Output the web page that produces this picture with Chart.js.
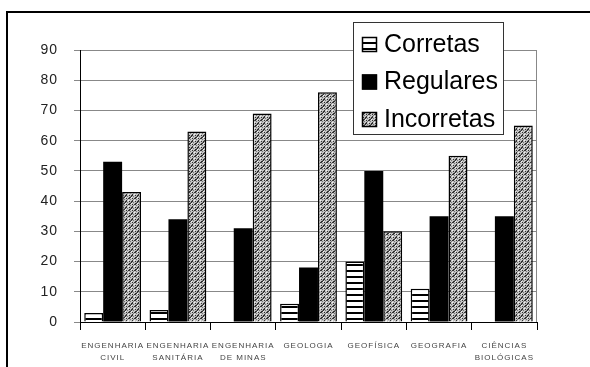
<!DOCTYPE html>
<html>
<head>
<meta charset="utf-8">
<script src="https://cdn.jsdelivr.net/npm/chart.js@4"></script>
<style>
  html, body { margin: 0; padding: 0; background: #fff; }
  canvas { display: block; }
</style>
</head>
<body>
<canvas id="chart" width="590" height="367"></canvas>
<script>
const categories = [
  ['ENGENHARIA', 'CIVIL'],
  ['ENGENHARIA', 'SANITÁRIA'],
  ['ENGENHARIA', 'DE MINAS'],
  ['GEOLOGIA'],
  ['GEOFÍSICA'],
  ['GEOGRAFIA'],
  ['CIÊNCIAS', 'BIOLÓGICAS'],
];
const corretas = [3, 4, 0, 6, 20, 11, 0];
const regulares = [53, 34, 31, 18, 50, 35, 35];
const incorretas = [43, 63, 69, 76, 30, 55, 65];
const yTicks = [0, 10, 20, 30, 40, 50, 60, 70, 80, 90];

function makePattern(draw, w, h) {
  const c = document.createElement('canvas');
  c.width = w;
  c.height = h;
  draw(c.getContext('2d'));
  return document.createElement('canvas').getContext('2d').createPattern(c, 'repeat');
}

// white with black horizontal stripes
const stripes = makePattern(ctx => {
  ctx.fillStyle = '#fff';
  ctx.fillRect(0, 0, 6, 6);
  ctx.fillStyle = '#000';
  ctx.fillRect(0, 0, 6, 2);
}, 6, 6);

// grey dotted crosshatch
const hatch = makePattern(ctx => {
  ctx.fillStyle = '#c4c4c4';
  ctx.fillRect(0, 0, 6, 6);
  ctx.fillStyle = '#333';
  ctx.fillRect(0, 0, 1, 1);
  ctx.fillRect(3, 3, 1, 1);
  ctx.fillRect(2, 0, 2, 1);
  ctx.fillRect(0, 2, 1, 2);
  ctx.fillRect(5, 3, 1, 2);
  ctx.fillRect(3, 5, 2, 1);
  ctx.fillStyle = '#777';
  ctx.fillRect(1, 1, 1, 1);
  ctx.fillRect(4, 4, 1, 1);
  ctx.fillRect(4, 1, 1, 1);
  ctx.fillRect(1, 4, 1, 1);
  ctx.fillStyle = '#f2f2f2';
  ctx.fillRect(2, 2, 1, 1);
  ctx.fillRect(5, 5, 1, 1);
}, 6, 6);

const legendItems = [
  { label: 'Corretas', fill: stripes },
  { label: 'Regulares', fill: '#000' },
  { label: 'Incorretas', fill: hatch },
];

const framePlugin = {
  id: 'frame',
  beforeDraw(chart) {
    const ctx = chart.ctx;
    ctx.save();
    ctx.strokeStyle = '#000';
    ctx.lineWidth = 2;
    ctx.beginPath();
    ctx.moveTo(590, 12);
    ctx.lineTo(7, 12);
    ctx.lineTo(7, 367);
    ctx.stroke();
    ctx.restore();
    ctx.letterSpacing = '1px';
  },
  beforeDatasetsDraw(chart) {
    chart.ctx.letterSpacing = '0px';
    const { ctx, chartArea } = chart;
    ctx.save();
    ctx.strokeStyle = '#888';
    ctx.lineWidth = 1;
    ctx.beginPath();
    ctx.moveTo(Math.round(chartArea.right) - 0.5, chartArea.top);
    ctx.lineTo(Math.round(chartArea.right) - 0.5, chartArea.bottom);
    ctx.stroke();
    ctx.restore();
  },
  afterDraw(chart) {
    const ctx = chart.ctx;
    ctx.save();
    ctx.fillStyle = '#fff';
    ctx.fillRect(353, 22, 150, 112);
    ctx.strokeStyle = '#333';
    ctx.lineWidth = 1;
    ctx.strokeRect(353.5, 22.5, 150, 112);
    ctx.font = '25px Arial, "Liberation Sans", sans-serif';
    ctx.textBaseline = 'middle';
    legendItems.forEach((item, i) => {
      const cy = 44 + i * 37.5;
      ctx.fillStyle = item.fill;
      ctx.fillRect(362, cy - 7, 15, 15);
      ctx.strokeStyle = '#000';
      ctx.lineWidth = 1.5;
      ctx.strokeRect(362.5, cy - 6.5, 14, 14);
      ctx.fillStyle = '#000';
      ctx.fillText(item.label, 384, cy + 1);
    });
    ctx.restore();
  },
};

new Chart(document.getElementById('chart'), {
  type: 'bar',
  data: {
    labels: categories,
    datasets: [
      { label: 'Corretas', data: corretas, backgroundColor: stripes, borderColor: '#000', borderWidth: 1.5 },
      { label: 'Regulares', data: regulares, backgroundColor: '#000', borderColor: '#000', borderWidth: 0 },
      { label: 'Incorretas', data: incorretas, backgroundColor: hatch, borderColor: '#000', borderWidth: 1.5 },
    ],
  },
  options: {
    responsive: false,
    animation: false,
    events: [],
    layout: { padding: { top: 50, right: 53, left: 0, bottom: 0 } },
    datasets: { bar: { categoryPercentage: 0.87, barPercentage: 1 } },
    plugins: { legend: { display: false }, tooltip: { enabled: false } },
    scales: {
      x: {
        afterFit(scale) { scale.height = 45; },
        grid: { offset: true, drawOnChartArea: false, tickLength: 8, color: '#000' },
        border: { color: '#000', width: 1 },
        ticks: {
          color: '#444',
          font: { family: 'Arial, "Liberation Sans", sans-serif', size: 8, lineHeight: 1.5 },
          padding: 10,
          maxRotation: 0,
          autoSkip: false,
        },
      },
      y: {
        min: 0,
        max: 90,
        afterFit(scale) { scale.width = 80; },
        afterBuildTicks(scale) { scale.ticks = yTicks.map(v => ({ value: v })); },
        grid: { color: '#888', tickLength: 6, lineWidth: 1 },
        border: { color: '#000', width: 1 },
        ticks: {
          color: '#222',
          font: { family: 'Arial, "Liberation Sans", sans-serif', size: 14 },
          padding: 16,
        },
      },
    },
  },
  plugins: [framePlugin],
});
</script>
</body>
</html>
